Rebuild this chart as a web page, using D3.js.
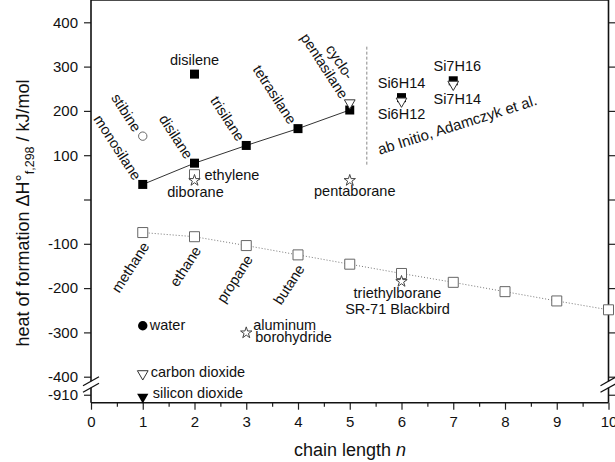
<!DOCTYPE html>
<html>
  <head>
    <meta charset="utf-8">
    <title>Heat of formation vs chain length</title>
    <script src="https://d3js.org/d3.v7.min.js"></script>
    <style>
      body { margin: 0; background: #fff; }
      svg text { font-family: "Liberation Sans", Arial, sans-serif; fill: #111; }
      .tick line { stroke: #222; stroke-width: 1.2; }
      .tick text { font-size: 15px; }
      .lbl { font-size: 14.5px; }
    </style>
  </head>
  <body>
    <script>
      // alkanes CnH2n+2 (dotted line, open squares)
      var alkaneN = [1, 2, 3, 4, 5, 6, 7, 8, 9, 10];
      var alkaneH = [-74.6, -84, -104, -125, -146, -167, -187, -208, -229, -249];
      var alkaneNames = ["methane", "ethane", "propane", "butane"];

      // silanes SinH2n+2 (solid line, filled squares)
      var silaneN = [1, 2, 3, 4, 5];
      var silaneH = [34, 82, 122, 160, 202];
      var silaneNames = ["monosilane", "disilane", "trisilane", "tetrasilane"];

      // single compounds
      var otherNames = ["disilene", "stibine", "ethylene", "diborane", "cyclo-pentasilane",
                        "pentaborane", "Si6H14", "Si6H12", "Si7H16", "Si7H14",
                        "triethylborane", "water", "aluminum borohydride",
                        "carbon dioxide", "silicon dioxide"];
      var otherN = [2, 1, 2, 2, 5, 5, 6, 6, 7, 7, 6, 1, 3, 1, 1];
      var otherH = [283, 143, 56, 43, 218, 43, 230, 222, 268, 260, -185, -285, -301, -393.5, -915];
      var otherKind = ["fsq", "ocirc", "osq", "star", "otri", "star", "fsq", "otri", "fsq", "otri",
                       "star", "fcirc", "star", "otri", "ftri"];

      var xTicks = [0, 1, 2, 3, 4, 5, 6, 7, 8, 9, 10];
      var yTicksUpper = [-400, -300, -200, -100, 0, 100, 200, 300, 400];
      var yTicksLower = [-910];

      var W = 615, H = 462;
      var svg = d3.select("body").append("svg").attr("width", W).attr("height", H);

      var x = d3.scaleLinear().domain([0, 10]).range([91, 608.5]);
      var yUp = d3.scaleLinear().domain([-400, 400]).range([376.7, 22.3]);
      var yLow = d3.scaleLinear().domain([-928, -895]).range([402.7, 388.1]);
      function y(v) { return v < -600 ? yLow(v) : yUp(v); }

      var left = x(0), right = x(10), top = yUp(400), bottom = yLow(-928);

      // axes (ticks only, frame drawn below)
      function clean(g) { g.select(".domain").remove(); }
      svg.append("g").attr("transform", "translate(0," + bottom + ")")
         .call(d3.axisBottom(x).tickValues(xTicks).tickSize(7).tickPadding(7).tickFormat(d3.format("d"))).call(clean);
      svg.append("g").attr("transform", "translate(0," + bottom + ")")
         .call(d3.axisBottom(x).tickValues(d3.range(0.5, 10, 1)).tickSize(4).tickFormat("")).call(clean);
      svg.append("g").attr("transform", "translate(0," + top + ")")
         .call(d3.axisTop(x).tickValues(xTicks).tickSize(7).tickFormat("")).call(clean);
      svg.append("g").attr("transform", "translate(0," + top + ")")
         .call(d3.axisTop(x).tickValues(d3.range(0.5, 10, 1)).tickSize(4).tickFormat("")).call(clean);

      var fmtY = function(d) { return d === 0 ? "" : d; };
      svg.append("g").attr("transform", "translate(" + left + ",0)")
         .call(d3.axisLeft(yUp).tickValues(yTicksUpper).tickSize(7).tickPadding(6).tickFormat(fmtY)).call(clean);
      svg.append("g").attr("transform", "translate(" + left + ",0)")
         .call(d3.axisLeft(yLow).tickValues(yTicksLower).tickSize(7).tickPadding(6).tickFormat(fmtY)).call(clean);
      svg.append("g").attr("transform", "translate(" + right + ",0)")
         .call(d3.axisRight(yUp).tickValues(yTicksUpper).tickSize(7).tickFormat("")).call(clean);
      svg.append("g").attr("transform", "translate(" + right + ",0)")
         .call(d3.axisRight(yLow).tickValues(yTicksLower).tickSize(7).tickFormat("")).call(clean);

      // frame with axis break
      var b1 = 381.2, b2 = 387.8;
      var frame = svg.append("g").attr("stroke", "#111").attr("stroke-width", 1.6).attr("fill", "none");
      frame.append("line").attr("x1", left).attr("x2", right).attr("y1", top).attr("y2", top);
      frame.append("line").attr("x1", left).attr("x2", right).attr("y1", bottom).attr("y2", bottom);
      [left, right].forEach(function(ax) {
        frame.append("line").attr("x1", ax).attr("x2", ax).attr("y1", top).attr("y2", b1);
        frame.append("line").attr("x1", ax).attr("x2", ax).attr("y1", b2).attr("y2", bottom);
        [b1, b2].forEach(function(b) {
          frame.append("line").attr("stroke-width", 1.3)
               .attr("x1", ax - 8).attr("y1", b + 4.5).attr("x2", ax + 8).attr("y2", b - 4.5);
        });
      });

      // axis titles
      svg.append("text").attr("x", 350).attr("y", 456).attr("text-anchor", "middle")
         .style("font-size", "18px")
         .html('chain length <tspan font-style="italic">n</tspan>');
      var yt = svg.append("text").attr("transform", "translate(28.5,213) rotate(-90)")
         .attr("text-anchor", "middle").style("font-size", "18px");
      yt.append("tspan").text("heat of formation \u0394H\u00b0");
      yt.append("tspan").attr("dy", 5).style("font-size", "12.5px").text("f,298");
      yt.append("tspan").attr("dy", -5).text(" / kJ/mol");

      // ab initio divider
      svg.append("line").attr("x1", x(5.33)).attr("x2", x(5.33)).attr("y1", y(345)).attr("y2", y(78))
         .attr("stroke", "#888").attr("stroke-width", 1).attr("stroke-dasharray", "3,2");
      svg.append("text").attr("class", "lbl").style("font-size", "15px")
         .attr("transform", "translate(" + x(5.58) + "," + y(101) + ") rotate(-17.6)")
         .text("ab Initio, Adamczyk et al.");

      // series lines
      svg.append("path").datum(d3.zip(alkaneN, alkaneH))
         .attr("fill", "none").attr("stroke", "#777").attr("stroke-width", 1).attr("stroke-dasharray", "1,2")
         .attr("d", d3.line().x(function(d) { return x(d[0]); }).y(function(d) { return y(d[1]); }));
      svg.append("path").datum(d3.zip(silaneN, silaneH))
         .attr("fill", "none").attr("stroke", "#333").attr("stroke-width", 1)
         .attr("d", d3.line().x(function(d) { return x(d[0]); }).y(function(d) { return y(d[1]); }));

      // markers
      var sym = {
        fsq:   { t: d3.symbolSquare, s: 81, fill: "#000", stroke: "none", rot: 0 },
        osq:   { t: d3.symbolSquare, s: 100, fill: "#fff", stroke: "#666", rot: 0 },
        ocirc: { t: d3.symbolCircle, s: 55, fill: "#fff", stroke: "#666", rot: 0 },
        fcirc: { t: d3.symbolCircle, s: 70, fill: "#000", stroke: "none", rot: 0 },
        otri:  { t: d3.symbolTriangle, s: 50, fill: "#fff", stroke: "#333", rot: 180 },
        ftri:  { t: d3.symbolTriangle, s: 55, fill: "#000", stroke: "none", rot: 180 },
        star:  { t: d3.symbolStar, s: 40, fill: "#fff", stroke: "#444", rot: 0 }
      };
      function mark(n, h, kind) {
        var s = sym[kind];
        svg.append("path")
           .attr("d", d3.symbol().type(s.t).size(s.s)())
           .attr("transform", "translate(" + x(n) + "," + y(h) + ") rotate(" + s.rot + ")")
           .attr("fill", s.fill).attr("stroke", s.stroke).attr("stroke-width", 1);
      }
      alkaneN.forEach(function(n, i) { mark(n, alkaneH[i], "osq"); });
      silaneN.forEach(function(n, i) { mark(n, silaneH[i], "fsq"); });
      otherN.forEach(function(n, i) { mark(n, otherH[i], otherKind[i]); });

      // rotated series labels
      silaneNames.forEach(function(name, i) {
        svg.append("text").attr("class", "lbl").attr("text-anchor", "end").attr("dy", "0.35em")
           .attr("transform", "translate(" + (x(silaneN[i]) - 5) + "," + (y(silaneH[i]) - 6) + ") rotate(57)")
           .text(name);
      });
      alkaneNames.forEach(function(name, i) {
        svg.append("text").attr("class", "lbl").attr("text-anchor", "end").attr("dy", "0.35em")
           .attr("transform", "translate(" + (x(alkaneN[i]) + 3) + "," + (y(alkaneH[i]) + 11) + ") rotate(-57)")
           .text(name);
      });

      // labels of single compounds: [dx, dy, anchor, rotate, lines]
      var place = {
        "disilene": [0, -9.5, "middle", 0, ["disilene"]],
        "stibine": [-5, -6, "end", 57, ["stibine"]],
        "ethylene": [10, 5, "start", 0, ["ethylene"]],
        "diborane": [1, 16.5, "middle", 0, ["diborane"]],
        "cyclo-pentasilane": [-5, -6, "end", 57, ["cyclo-", "pentasilane"]],
        "pentaborane": [5, 15.5, "middle", 0, ["pentaborane"]],
        "Si6H14": [0, -10, "middle", 0, ["Si6H14"]],
        "Si6H12": [0, 18, "middle", 0, ["Si6H12"]],
        "Si7H16": [4, -10, "middle", 0, ["Si7H16"]],
        "Si7H14": [4, 20, "middle", 0, ["Si7H14"]],
        "triethylborane": [-4, 16.5, "middle", 0, ["triethylborane", "SR-71 Blackbird"]],
        "water": [7, 4.5, "start", 0, ["water"]],
        "aluminum borohydride": [7, -3, "start", 0, ["aluminum", "borohydride"]],
        "carbon dioxide": [8, 3.5, "start", 0, ["carbon dioxide"]],
        "silicon dioxide": [10, 1.5, "start", 0, ["silicon dioxide"]]
      };
      otherNames.forEach(function(name, i) {
        var p = place[name];
        var t = svg.append("text").attr("class", "lbl").attr("text-anchor", p[2])
           .attr("transform", "translate(" + (x(otherN[i]) + p[0]) + "," + (y(otherH[i]) + p[1]) + ") rotate(" + p[3] + ")");
        if (p[3] !== 0) {
          // rotated two-line label: first line sits above and ends earlier
          if (p[4].length === 2) {
            t.append("tspan").attr("x", -13).attr("y", -15).attr("dy", "0.35em").text(p[4][0]);
            t.append("tspan").attr("x", 0).attr("y", 0).attr("dy", "0.35em").text(p[4][1]);
          } else {
            t.attr("dy", "0.35em").text(p[4][0]);
          }
        } else {
          p[4].forEach(function(line, k) {
            var step = name === "aluminum borohydride" ? 12.5 : 16;
            var dx = name === "aluminum borohydride" && k === 1 ? 2 : 0;
            t.append("tspan").attr("x", dx).attr("y", k * step).text(line);
          });
        }
      });
    </script>
  </body>
</html>
